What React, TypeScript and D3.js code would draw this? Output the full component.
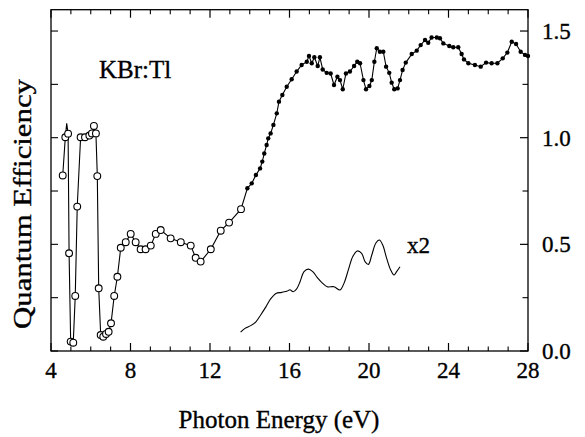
import React from "react";
import * as d3 from "d3";

// open circles (low energy part)
const openE = [4.59, 4.72, 4.86, 4.91, 4.99, 5.12, 5.22, 5.32, 5.49, 5.71, 5.93, 6.06, 6.16, 6.26, 6.33, 6.4, 6.5, 6.63, 6.77, 6.9, 7.02, 7.18, 7.34, 7.51, 7.76, 8.01, 8.26, 8.51, 8.76, 9.02, 9.27, 9.52, 10.02, 10.53, 11.03, 11.28, 11.53, 12.04, 12.54, 12.96, 13.56];
const openQE = [0.823, 1.002, 1.019, 0.458, 0.044, 0.039, 0.258, 0.677, 1.002, 1.002, 1.01, 1.02, 1.055, 1.02, 0.82, 0.294, 0.075, 0.067, 0.08, 0.09, 0.13, 0.258, 0.348, 0.484, 0.51, 0.549, 0.51, 0.477, 0.477, 0.494, 0.549, 0.567, 0.528, 0.51, 0.494, 0.437, 0.419, 0.477, 0.564, 0.602, 0.665];
// narrow peak of the line near 4.8 eV (no marker)
const spikeE = [4.79];
const spikeQE = [1.067];

// filled dots (high energy part)
const dotE = [13.88, 14.1, 14.31, 14.52, 14.63, 14.73, 14.85, 14.93, 15.05, 15.19, 15.36, 15.47, 15.64, 15.86, 16.11, 16.36, 16.61, 16.87, 16.98, 17.12, 17.25, 17.42, 17.53, 17.67, 17.87, 18.07, 18.24, 18.41, 18.54, 18.68, 18.84, 19.04, 19.25, 19.41, 19.55, 19.72, 19.85, 20.02, 20.14, 20.27, 20.39, 20.55, 20.72, 20.86, 21.02, 21.14, 21.27, 21.44, 21.56, 21.69, 21.85, 22.15, 22.4, 22.6, 22.82, 22.98, 23.15, 23.41, 23.57, 23.74, 24.04, 24.24, 24.49, 24.66, 24.78, 25.0, 25.33, 25.62, 25.89, 26.17, 26.46, 26.73, 26.96, 27.18, 27.4, 27.63, 27.85, 28.0];
const dotQE = [0.763, 0.786, 0.825, 0.856, 0.888, 0.926, 0.966, 0.997, 1.02, 1.06, 1.114, 1.169, 1.2, 1.239, 1.274, 1.31, 1.341, 1.356, 1.383, 1.349, 1.377, 1.336, 1.377, 1.32, 1.304, 1.301, 1.247, 1.286, 1.27, 1.227, 1.301, 1.31, 1.336, 1.356, 1.349, 1.27, 1.227, 1.242, 1.27, 1.356, 1.419, 1.403, 1.403, 1.333, 1.304, 1.258, 1.227, 1.231, 1.27, 1.317, 1.352, 1.392, 1.408, 1.434, 1.458, 1.445, 1.47, 1.47, 1.466, 1.442, 1.43, 1.424, 1.424, 1.392, 1.367, 1.349, 1.341, 1.333, 1.352, 1.349, 1.349, 1.372, 1.399, 1.45, 1.439, 1.403, 1.388, 1.383];

// x2 curve
const x2E = [13.54, 13.76, 14.05, 14.31, 14.55, 14.82, 15.05, 15.32, 15.61, 15.89, 16.02, 16.19, 16.36, 16.53, 16.73, 16.95, 17.17, 17.4, 17.67, 17.9, 18.24, 18.54, 18.74, 18.96, 19.18, 19.41, 19.63, 19.8, 19.97, 20.14, 20.34, 20.52, 20.69, 20.89, 21.09, 21.26, 21.39, 21.56];
const x2QE = [0.088, 0.106, 0.119, 0.137, 0.169, 0.208, 0.244, 0.27, 0.275, 0.281, 0.287, 0.278, 0.291, 0.325, 0.372, 0.384, 0.372, 0.344, 0.317, 0.301, 0.301, 0.286, 0.317, 0.38, 0.442, 0.469, 0.458, 0.419, 0.406, 0.45, 0.505, 0.52, 0.497, 0.434, 0.38, 0.356, 0.372, 0.395];

const xTicks = [4, 8, 12, 16, 20, 24, 28];
const xMinor = [5, 6, 7, 9, 10, 11, 13, 14, 15, 17, 18, 19, 21, 22, 23, 25, 26, 27];
const yTicks = [0, 0.5, 1.0, 1.5];
const yTickLabels = ["0.0", "0.5", "1.0", "1.5"];
const yMinor = [0.25, 0.75, 1.25];

const W = 585;
const H = 437;
// slightly heavier glyphs, like the scanned original
const serif = {
  fontFamily: "'Liberation Serif', 'Times New Roman', 'DejaVu Serif', serif",
  stroke: "#000",
  strokeWidth: 0.35,
};

export default function App() {
  const x = d3.scaleLinear().domain([4, 28]).range([51, 528]);
  const y = d3.scaleLinear().domain([0, 1.6]).range([351, 9.7]);

  const openPts = openE.map((e, i) => [e, openQE[i]] as [number, number]);
  const linePts = openPts
    .concat(spikeE.map((e, i) => [e, spikeQE[i]] as [number, number]))
    .sort((a, b) => a[0] - b[0]);
  const dotPts = dotE.map((e, i) => [e, dotQE[i]] as [number, number]);
  const x2Pts = x2E.map((e, i) => [e, x2QE[i]] as [number, number]);

  const line = d3.line<[number, number]>().x(d => x(d[0])).y(d => y(d[1]));
  const smooth = d3
    .line<[number, number]>()
    .x(d => x(d[0]))
    .y(d => y(d[1]))
    .curve(d3.curveCatmullRom.alpha(0.5));

  const mainPath = line(linePts.concat(dotPts));
  const x0 = x(4), x1 = x(28), yb = y(0), yt = y(1.6);
  const allY = yTicks.concat(yMinor);

  return (
    <svg width={W} height={H} style={{ position: "absolute", left: 0, top: 0, background: "#fff" }}>
      <rect x={x0} y={yt} width={x1 - x0} height={yb - yt} fill="none" stroke="#000" strokeWidth={1.3} />

      {/* bottom and top ticks */}
      {xTicks.map(v => (
        <g key={"xt" + v}>
          <line x1={x(v)} x2={x(v)} y1={yb} y2={yb - 8} stroke="#000" strokeWidth={1.2} />
          <line x1={x(v)} x2={x(v)} y1={yt} y2={yt + 8} stroke="#000" strokeWidth={1.2} />
          <text x={x(v)} y={378} textAnchor="middle" style={serif} fontSize={23}>
            {v}
          </text>
        </g>
      ))}
      {xMinor.map(v => (
        <g key={"xm" + v}>
          <line x1={x(v)} x2={x(v)} y1={yb} y2={yb - 4.5} stroke="#000" strokeWidth={1.1} />
          <line x1={x(v)} x2={x(v)} y1={yt} y2={yt + 4.5} stroke="#000" strokeWidth={1.1} />
        </g>
      ))}

      {/* left ticks */}
      {allY.map(v => (
        <line key={"yl" + v} x1={x0} x2={x0 + 7} y1={y(v)} y2={y(v)} stroke="#000" strokeWidth={1.1} />
      ))}
      {/* right ticks + labels */}
      {yTicks.map((v, i) => (
        <g key={"yr" + v}>
          <line x1={x1} x2={x1 - 8} y1={y(v)} y2={y(v)} stroke="#000" strokeWidth={1.2} />
          <text x={x1 + 14} y={y(v) + 8} style={serif} fontSize={23}>
            {yTickLabels[i]}
          </text>
        </g>
      ))}
      {yMinor.map(v => (
        <line key={"yrm" + v} x1={x1} x2={x1 - 5.5} y1={y(v)} y2={y(v)} stroke="#000" strokeWidth={1.1} />
      ))}

      {/* data */}
      <path d={mainPath ?? ""} fill="none" stroke="#000" strokeWidth={1.1} />
      {dotPts.map((d, i) => (
        <circle key={"d" + i} cx={x(d[0])} cy={y(d[1])} r={2.2} fill="#000" />
      ))}
      {openPts.map((d, i) => (
        <circle key={"o" + i} cx={x(d[0])} cy={y(d[1])} r={3.4} fill="#fff" stroke="#000" strokeWidth={1.1} />
      ))}
      <path d={smooth(x2Pts) ?? ""} fill="none" stroke="#000" strokeWidth={1.1} />

      {/* annotations */}
      <text x={99} y={78} style={serif} fontSize={25}>KBr:Tl</text>
      <text x={407} y={253} style={serif} fontSize={23}>x2</text>

      {/* axis titles */}
      <text x={279} y={428} textAnchor="middle" style={serif} fontSize={25}>
        Photon Energy (eV)
      </text>
      <text
        transform={`translate(31, 204) rotate(-90)`}
        textAnchor="middle"
        style={serif}
        fontSize={26}
        textLength={250}
        lengthAdjust="spacingAndGlyphs"
      >
        Quantum Efficiency
      </text>
    </svg>
  );
}
